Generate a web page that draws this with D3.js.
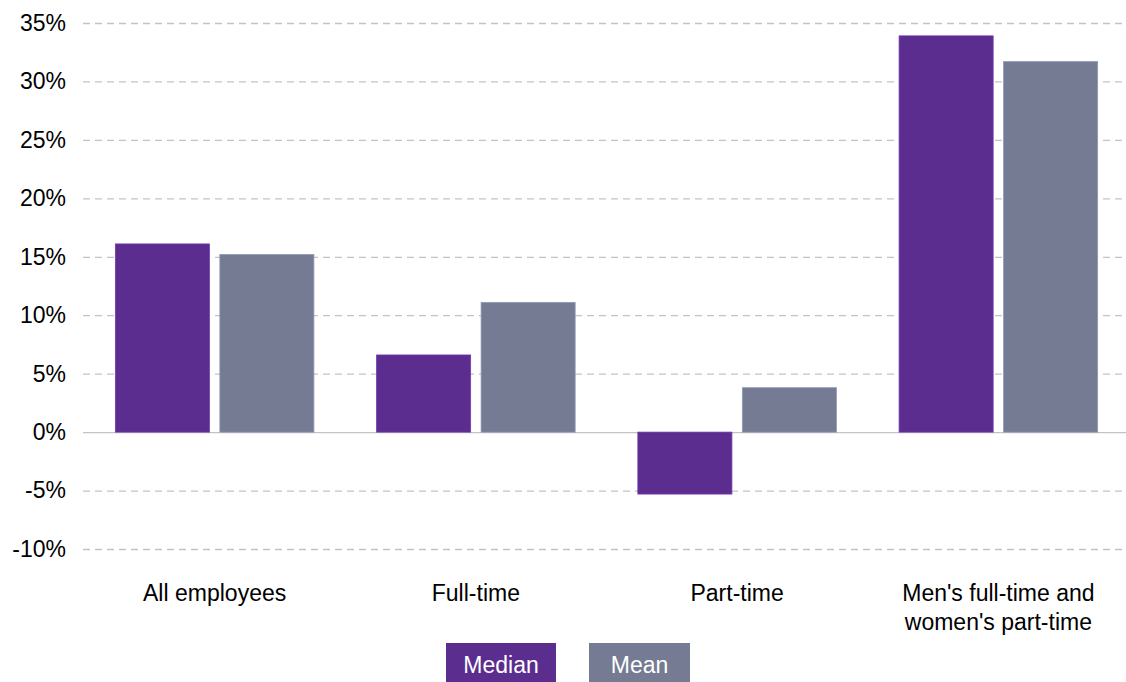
<!DOCTYPE html>
<html>
<head>
<meta charset="utf-8">
<script src="https://cdn.jsdelivr.net/npm/d3@7"></script>
<style>
  body { margin: 0; background: #fff; }
  text { font-family: "Liberation Sans", Arial, sans-serif; }
</style>
</head>
<body>
<div class="canvas"></div>
<script>
// data
const categories = [["All employees"], ["Full-time"], ["Part-time"], ["Men's full-time and", "women's part-time"]]
const series = ['Median', 'Mean']
const medianValues = [16.1, 6.6, -5.3, 33.9]
const meanValues = [15.2, 11.1, 3.8, 31.7]
const yTicks = [-10, -5, 0, 5, 10, 15, 20, 25, 30, 35]

const colors = { Median: '#5b2d8e', Mean: '#747b93' }
const dims = { width: 1126, height: 682 }

const svg = d3.select('.canvas')
    .append('svg')
    .attr('width', dims.width)
    .attr('height', dims.height)

const y = d3.scaleLinear()
    .domain([-10, 35])
    .range([549, 23])

const x0 = d3.scaleBand()
    .domain(categories.map(c => c.join(' ')))
    .range([84, 1129])

const x1 = d3.scaleBand()
    .domain(series)
    .range([x0.bandwidth() * 0.12, x0.bandwidth() * 0.88])
    .paddingInner(0.1)

// gridlines + tick labels
const yAxis = svg.append('g')
    .attr('transform', 'translate(83, 0)')
    .call(d3.axisLeft(y).tickValues(yTicks).tickSize(-1043).tickFormat(d => d + '%').tickPadding(17))

yAxis.select('.domain').remove()
yAxis.selectAll('line')
    .attr('stroke', '#c3c3c3')
    .attr('stroke-width', 1.3)
    .attr('stroke-dasharray', d => d === 0 ? null : '7,5')
yAxis.selectAll('text')
    .attr('font-size', 23)
    .attr('fill', '#000')
    .attr('font-family', '"Liberation Sans", Arial, sans-serif')

const rows = categories.map((c, i) => ({
    key: c.join(' '),
    values: [
        { s: 'Median', v: medianValues[i] },
        { s: 'Mean', v: meanValues[i] }
    ]
}))

const groups = svg.selectAll('g.cat')
    .data(rows)
    .enter()
    .append('g')
        .attr('class', 'cat')
        .attr('transform', d => `translate(${x0(d.key)}, 0)`)

groups.selectAll('rect')
    .data(d => d.values)
    .enter()
    .append('rect')
        .attr('x', d => x1(d.s))
        .attr('width', x1.bandwidth())
        .attr('y', d => y(Math.max(0, d.v)))
        .attr('height', d => Math.abs(y(d.v) - y(0)))
        .attr('fill', d => colors[d.s])
        .attr('stroke', d => d3.color(colors[d.s]).brighter(0.6))
        .attr('stroke-width', 0.8)

// category labels
svg.selectAll('text.cat')
    .data(categories)
    .enter()
    .append('text')
        .attr('class', 'cat')
        .attr('text-anchor', 'middle')
        .attr('font-size', 23)
        .attr('x', d => x0(d.join(' ')) + x0.bandwidth() / 2)
        .attr('y', 601)
    .selectAll('tspan')
    .data(d => d)
    .enter()
    .append('tspan')
        .attr('x', function() { return this.parentNode.getAttribute('x') })
        .attr('dy', (d, i) => i === 0 ? 0 : 29)
        .text(d => d)

// legend
const legendBoxes = [{ s: 'Median', x: 446, w: 110 }, { s: 'Mean', x: 589, w: 101 }]
const legend = svg.selectAll('g.legend')
    .data(legendBoxes)
    .enter()
    .append('g')
        .attr('class', 'legend')
        .attr('transform', d => `translate(${d.x}, 643)`)

legend.append('rect')
    .attr('width', d => d.w)
    .attr('height', 42)
    .attr('fill', d => colors[d.s])

legend.append('text')
    .attr('x', d => d.w / 2)
    .attr('y', 30)
    .attr('text-anchor', 'middle')
    .attr('font-size', 23)
    .attr('fill', '#fff')
    .text(d => d.s)
</script>
</body>
</html>
